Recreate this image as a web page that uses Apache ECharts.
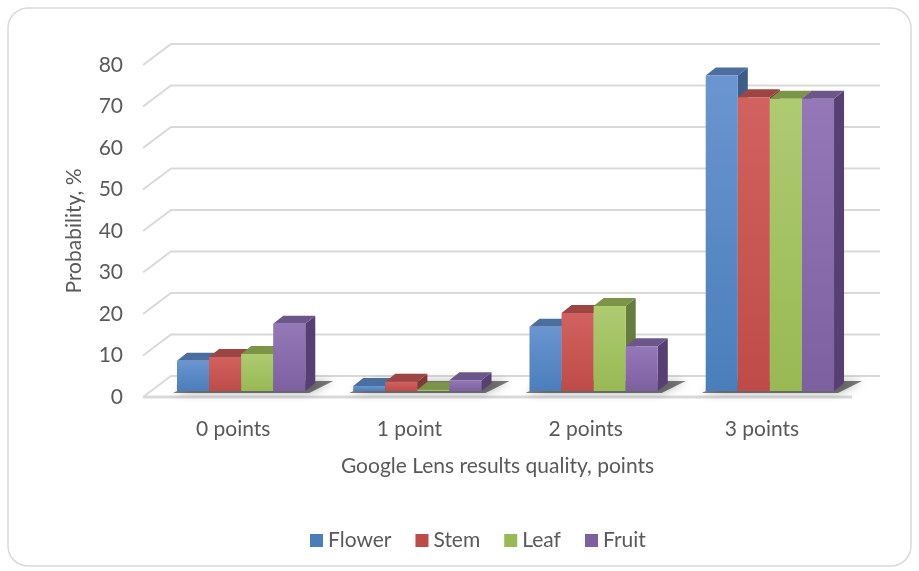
<!DOCTYPE html>
<html>
<head>
<meta charset="utf-8">
<script src="https://cdn.jsdelivr.net/npm/echarts@6/dist/echarts.min.js"></script>
<style>
  html, body { margin: 0; padding: 0; background: #fff; }
  #main { width: 919px; height: 571px; }
</style>
</head>
<body>
<div id="main"></div>
<script>
const categories = ["0 points", "1 point", "2 points", "3 points"];
const seriesNames = ["Flower", "Stem", "Leaf", "Fruit"];
const flower = [7.3, 1.2, 15.5, 76.0];
const stem = [8.2, 2.2, 18.8, 70.8];
const leaf = [8.9, 0.3, 20.5, 70.4];
const fruit = [16.2, 2.6, 10.8, 70.4];
const yTicks = [0, 10, 20, 30, 40, 50, 60, 70, 80];

// face colours: [front top, front bottom, top, side]
const palette = [
  ["#6a95d0", "#4a7ebb", "#4a6e9e", "#3d5c87"],
  ["#d2625f", "#be4b48", "#9c4543", "#7f3a38"],
  ["#aecb70", "#98b954", "#7b9448", "#667d3b"],
  ["#9478b8", "#7d60a0", "#6b5789", "#553f73"]
];

const chartDom = document.getElementById("main");
const myChart = echarts.init(chartDom);

// oblique depth of the floor / back wall
const WALL_DX = 28, WALL_DY = -21;
// bar front face offset and bar depth
const FX = 8, FY = -6, BX = 10, BY = -8;
const FONT = 21;

function barRender(si) {
  return function (params, api) {
    const c = api.value(0);
    const v = api.value(1);
    const p0 = api.coord([c, 0]);
    const p1 = api.coord([c, v]);
    const band = api.size([1, 0])[0];
    const w = band * 0.182;
    const x0 = p0[0] - 2 * w + si * w + FX;
    const x1 = x0 + w;
    const yb = p0[1] + FY;
    const yt = p1[1] + FY;
    const col = palette[si];
    return {
      type: "group",
      children: [
        {
          type: "polygon",
          shape: { points: [[x1, yt], [x1 + BX, yt + BY], [x1 + BX, yb + BY], [x1, yb]] },
          style: { fill: col[3] }
        },
        {
          type: "polygon",
          shape: { points: [[x0, yt], [x1, yt], [x1 + BX, yt + BY], [x0 + BX, yt + BY]] },
          style: { fill: col[2] }
        },
        {
          type: "rect",
          shape: { x: x0, y: yt, width: w, height: yb - yt },
          style: {
            fill: new echarts.graphic.LinearGradient(0, 0, 0, 1, [
              { offset: 0, color: col[0] },
              { offset: 1, color: col[1] }
            ])
          }
        }
      ]
    };
  };
}

function wallRender(params, api) {
  const v = api.value(0);
  const p = api.coord([0, v]);
  const cs = params.coordSys;
  const xl = cs.x - 2;
  const xr = cs.x + cs.width;
  const children = [
    {
      type: "polyline",
      shape: { points: [[xl, p[1]], [xl + WALL_DX, p[1] + WALL_DY], [xr + WALL_DX + 2, p[1] + WALL_DY]] },
      style: { stroke: "#d9d9d9", lineWidth: 2, fill: null }
    }
  ];
  if (v === 0) {
    children.push({
      type: "line",
      shape: { x1: xl, y1: p[1], x2: xr + 2, y2: p[1] },
      style: { stroke: "#d9d9d9", lineWidth: 3 }
    });
  }
  return { type: "group", children: children };
}

function shadowRender(params, api) {
  const c = api.value(0);
  const p0 = api.coord([c, 0]);
  const band = api.size([1, 0])[0];
  const w = band * 0.182;
  const xl = p0[0] - 2 * w + FX;
  const xr = xl + 4 * w;
  const yb = p0[1] + FY;
  return {
    type: "polygon",
    shape: {
      points: [[xl - 4, yb + 2], [xr + 4, yb + 2], [xr + BX + 18, yb + BY - 2], [xl + BX + 12, yb + BY - 2]]
    },
    style: {
      fill: "rgba(0,0,0,0.5)",
      shadowBlur: 10,
      shadowColor: "rgba(0,0,0,0.6)"
    }
  };
}

const seriesData = [flower, stem, leaf, fruit];

const option = {
  animation: false,
  textStyle: { fontFamily: "Lato", color: "#595959" },
  graphic: [
    {
      type: "rect",
      shape: { x: 8, y: 8, width: 903, height: 558, r: 20 },
      style: { fill: null, stroke: "#d9d9d9", lineWidth: 1.5 },
      z: -10
    }
  ],
  grid: { left: 145, right: 69, top: 65, bottom: 174 },
  legend: {
    data: seriesNames,
    top: 525,
    left: 305,
    icon: "rect",
    itemWidth: 13,
    itemHeight: 13,
    itemGap: 24,
    textStyle: { fontSize: FONT, color: "#595959", fontFamily: "Lato" }
  },
  xAxis: {
    type: "category",
    data: categories,
    name: "Google Lens results quality, points",
    nameLocation: "middle",
    nameGap: 59,
    nameTextStyle: { fontSize: FONT, color: "#595959" },
    axisLine: { show: false },
    axisTick: { show: false },
    axisLabel: { fontSize: FONT, color: "#595959", margin: 22 },
    splitLine: { show: false }
  },
  yAxis: {
    type: "value",
    min: 0,
    max: 80,
    interval: 10,
    name: "Probability, %",
    nameLocation: "middle",
    nameGap: 60,
    nameTextStyle: { fontSize: FONT, color: "#595959" },
    axisLine: { show: false },
    axisTick: { show: false },
    axisLabel: { fontSize: FONT, color: "#595959", margin: 22 },
    splitLine: { show: false }
  },
  series: [
    {
      name: "wall",
      type: "custom",
      renderItem: wallRender,
      data: yTicks.map((t) => [t]),
      encode: { y: 0 },
      clip: false,
      silent: true,
      z: 1
    },
    {
      name: "shadow",
      type: "custom",
      renderItem: shadowRender,
      data: categories.map((c, i) => [i, 0]),
      encode: { x: 0, y: 1 },
      clip: false,
      silent: true,
      z: 2
    }
  ].concat(
    seriesNames.map((name, si) => ({
      name: name,
      type: "custom",
      renderItem: barRender(si),
      itemStyle: { color: palette[si][1] },
      data: seriesData[si].map((v, i) => [i, v]),
      encode: { x: 0, y: 1 },
      clip: false,
      z: 3
    }))
  )
};

myChart.setOption(option);
</script>
</body>
</html>
